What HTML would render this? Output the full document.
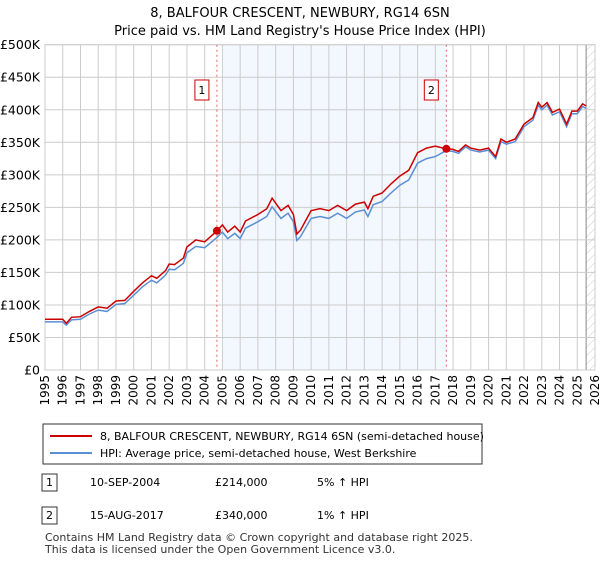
<!DOCTYPE html>
<html><head><meta charset="utf-8"><style>
body{margin:0;background:#fff;font-family:"Liberation Sans",sans-serif;}
svg text{font-family:"DejaVu Sans","Liberation Sans",sans-serif;}
</style></head><body>
<svg width="600" height="560" id="c">
<text x="300" y="17" text-anchor="middle" font-size="13">8, BALFOUR CRESCENT, NEWBURY, RG14 6SN</text>
<text x="300" y="35" text-anchor="middle" font-size="13">Price paid vs. HM Land Registry's House Price Index (HPI)</text>
<defs><pattern id="hatch" width="6" height="6" patternUnits="userSpaceOnUse" patternTransform="rotate(45)"><line x1="0" y1="0" x2="0" y2="6" stroke="#ccc" stroke-width="1"/></pattern></defs>
<g id="plot"></g>
<g>
<rect x="43" y="424" width="439" height="40" fill="#fff" stroke="#333"/>
<line x1="50" y1="436" x2="92" y2="436" stroke="#cc0000" stroke-width="2"/>
<text x="100" y="440" font-size="11">8, BALFOUR CRESCENT, NEWBURY, RG14 6SN (semi-detached house)</text>
<line x1="50" y1="453" x2="92" y2="453" stroke="#5b8fd4" stroke-width="2"/>
<text x="100" y="457" font-size="11">HPI: Average price, semi-detached house, West Berkshire</text>
</g>
<g font-size="11">
<rect x="42" y="474" width="15" height="17" fill="#fff" stroke="#333"/><text x="49.5" y="486" text-anchor="middle">1</text>
<text x="90" y="486">10-SEP-2004</text><text x="215" y="486">£214,000</text><text x="317" y="486">5% ↑ HPI</text>
<rect x="42" y="507" width="15" height="17" fill="#fff" stroke="#333"/><text x="49.5" y="519" text-anchor="middle">2</text>
<text x="90" y="519">15-AUG-2017</text><text x="215" y="519">£340,000</text><text x="317" y="519">1% ↑ HPI</text>
</g>
<text x="45" y="541" font-size="11" fill="#333">Contains HM Land Registry data © Crown copyright and database right 2025.</text>
<text x="45" y="553" font-size="11" fill="#333">This data is licensed under the Open Government Licence v3.0.</text>
</svg>
<script>
const years=[1995.0,1996.0,1996.2,1996.5,1997.0,1997.5,1998.0,1998.5,1999.0,1999.5,2000.0,2000.5,2001.0,2001.3,2001.8,2002.0,2002.3,2002.8,2003.0,2003.5,2004.0,2004.7,2005.0,2005.3,2005.7,2006.0,2006.3,2007.0,2007.5,2007.8,2008.3,2008.7,2009.0,2009.2,2009.4,2010.0,2010.5,2011.0,2011.5,2012.0,2012.5,2013.0,2013.2,2013.5,2014.0,2014.5,2015.0,2015.5,2016.0,2016.5,2017.0,2017.6,2018.0,2018.3,2018.7,2019.0,2019.5,2020.0,2020.4,2020.7,2021.0,2021.5,2022.0,2022.5,2022.8,2023.0,2023.3,2023.6,2024.0,2024.4,2024.7,2025.0,2025.3,2025.5];
const hpi=[74,74,69,77,78,86,92,90,101,102,115,128,138,134,146,155,154,164,180,190,188,204,212,202,210,202,218,228,236,251,233,241,228,199,205,233,236,233,241,233,243,246,236,254,259,272,284,292,318,325,328,337,336,333,343,338,335,338,325,351,347,351,374,384,407,400,407,392,397,374,394,394,405,402];
const price=[78,78,72,81,82,90,97,95,106,107,121,134,145,141,153,163,162,172,189,200,197,214,223,212,221,212,229,239,248,264,245,253,239,209,215,245,248,245,253,245,255,258,248,267,272,286,298,307,334,341,344,340,339,336,346,341,338,341,328,355,350,355,378,388,411,404,411,396,401,378,398,398,409,406];
const saleYears=[2004.69,2017.62];
const salePrices=[214,340];
const saleLabels=["1","2"];
const yTicks=[0,50,100,150,200,250,300,350,400,450,500];
const yTickLabels=["£0","£50K","£100K","£150K","£200K","£250K","£300K","£350K","£400K","£450K","£500K"];
const xTicks=[];for(let y=1995;y<=2026;y++)xTicks.push(y);

const X0=45,X1=595,Y0=370,Y1=44.7;
const xs=y=>X0+(y-1995)/31*(X1-X0);
const ys=v=>Y0-v/500*(Y0-Y1);
const NS="http://www.w3.org/2000/svg";
const g=document.getElementById('plot');
function mk(t,a,p){const e=document.createElementNS(NS,t);for(const k in a)e.setAttribute(k,a[k]);(p||g).appendChild(e);return e;}

const shade=mk('rect',{x:xs(2005.0),y:Y1,width:xs(saleYears[1])-xs(2005.0),height:Y0-Y1,fill:'#eef3fd',opacity:0.7});


const hat=mk('rect',{x:xs(2025.5),y:Y1,width:X1-xs(2025.5),height:Y0-Y1,fill:'url(#hatch)'});


mk('line',{x1:xs(2025.5),x2:xs(2025.5),y1:Y1,y2:Y0,stroke:'#888','stroke-width':1});

xTicks.forEach(t=>{
  mk('line',{x1:xs(t),x2:xs(t),y1:Y1,y2:Y0,stroke:'#ccc','stroke-width':1});
  const tx=mk('text',{x:0,y:0,'font-size':12,'text-anchor':'end',transform:`translate(${xs(t)+4},${Y0+5}) rotate(-90)`});
  tx.textContent=t;
  
  
});
yTicks.forEach((t,i)=>{
  mk('line',{x1:X0,x2:X1,y1:ys(t),y2:ys(t),stroke:'#ccc','stroke-width':1});
  const tx=mk('text',{x:40,y:ys(t)+4.5,'font-size':12.5,'text-anchor':'end'});
  tx.textContent=yTickLabels[i];
  
  
});
mk('rect',{x:X0,y:Y1,width:X1-X0,height:Y0-Y1,fill:'none',stroke:'#ccc'});

saleYears.forEach((s,i)=>{
  const l=mk('line',{x1:xs(s),x2:xs(s),y1:Y1,y2:Y0,stroke:'#e06666','stroke-width':1,'stroke-dasharray':'2,3'});
  
  
  const b=mk('rect',{x:xs(s)-22,y:80,width:14,height:20,fill:'#fff',stroke:'#cc0000'});
  
  
  const t=mk('text',{x:xs(s)-15,y:94,'font-size':11,'text-anchor':'middle'});
  t.textContent=saleLabels[i];
});

const pB=mk('path',{d:years.map((y,i)=>(i?'L':'M')+xs(y).toFixed(1)+','+ys(hpi[i]).toFixed(1)).join(''),fill:'none',stroke:'#5b8fd4','stroke-width':1.5});


const pR=mk('path',{d:years.map((y,i)=>(i?'L':'M')+xs(y).toFixed(1)+','+ys(price[i]).toFixed(1)).join(''),fill:'none',stroke:'#cc0000','stroke-width':1.5});


saleYears.forEach((s,i)=>{
  const c=mk('circle',{cx:xs(s),cy:ys(salePrices[i]),r:4,fill:'#cc0000'});
  
  
});
</script>
</body></html>
